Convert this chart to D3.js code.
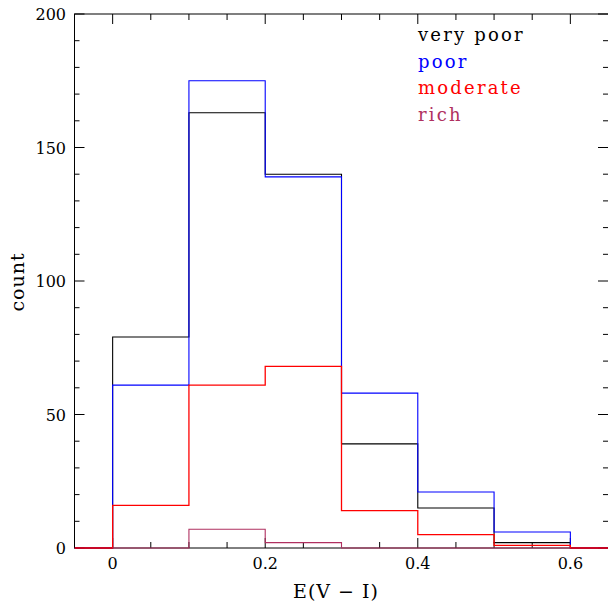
<!DOCTYPE html>
<html>
<head>
<meta charset="utf-8">
<script src="https://cdn.jsdelivr.net/npm/d3@7"></script>
<style>
  html, body { margin: 0; padding: 0; background: #fff; }
  svg { display: block; }
  text { font-family: "DejaVu Serif", "Liberation Serif", serif; fill: #000; }
</style>
</head>
<body>
<svg id="chart" width="608" height="606"></svg>
<script>
// ---- data ----
const binEdges = [0, 0.1, 0.2, 0.3, 0.4, 0.5, 0.6];
const veryPoor = [79, 163, 140, 39, 15, 2];
const poor     = [61, 175, 139, 58, 21, 6];
const moderate = [16, 61, 68, 14, 5, 1];
const rich     = [0, 7, 2, 0, 0, 0];
const seriesNames = ["very poor", "poor", "moderate", "rich"];
const seriesColors = ["#000000", "#0000ff", "#ff0000", "#b03060"];
const xTickLabels = [0, 0.2, 0.4, 0.6];
const yTickLabels = [0, 50, 100, 150, 200];

// ---- layout ----
const svg = d3.select("#chart");
const L = 74.5, R = 609, T = 14, B = 548;
const x = d3.scaleLinear().domain([-0.05, 0.65]).range([L, R - 0.5]);
const y = d3.scaleLinear().domain([0, 200]).range([B, T]);

// ---- frame & ticks ----
const frame = svg.append("g").attr("stroke", "#000").attr("stroke-width", 1).attr("fill", "none");
frame.append("rect").attr("x", L).attr("y", T).attr("width", R - L).attr("height", B - T);

const xMinor = d3.range(-0.05, 0.651, 0.05).map(v => +v.toFixed(2));
xMinor.forEach(v => {
  const major = xTickLabels.some(t => Math.abs(t - v) < 1e-6);
  const len = major ? 10 : 6;
  const px = x(v);
  frame.append("line").attr("x1", px).attr("x2", px).attr("y1", B).attr("y2", B - len);
  frame.append("line").attr("x1", px).attr("x2", px).attr("y1", T).attr("y2", T + len);
});
d3.range(0, 201, 10).forEach(v => {
  const major = v % 50 === 0;
  const len = major ? 10 : 5;
  const py = y(v);
  frame.append("line").attr("x1", L).attr("x2", L + len).attr("y1", py).attr("y2", py);
  frame.append("line").attr("x1", R - 1).attr("x2", R - 1 - len).attr("y1", py).attr("y2", py);
});

// ---- histograms ----
svg.append("defs").append("clipPath").attr("id", "clip")
  .append("rect").attr("x", L).attr("y", T - 1).attr("width", R - L).attr("height", B - T + 2);

function stepPoints(vals, extend) {
  const pts = [];
  if (extend) pts.push([x.domain()[0], 0]);
  pts.push([binEdges[0], 0]);
  vals.forEach((v, i) => { pts.push([binEdges[i], v]); pts.push([binEdges[i + 1], v]); });
  pts.push([binEdges[binEdges.length - 1], 0]);
  if (extend) pts.push([x.domain()[1], 0]);
  return pts;
}
const line = d3.line().x(d => x(d[0])).y(d => y(d[1]));
const allSeries = [veryPoor, poor, moderate, rich];
const g = svg.append("g").attr("clip-path", "url(#clip)");
allSeries.forEach((vals, i) => {
  g.append("path")
    .attr("d", line(stepPoints(vals, i !== 3)))
    .attr("fill", "none")
    .attr("stroke", seriesColors[i])
    .attr("stroke-width", i === 2 ? 1.3 : 1.1);
});

// ---- tick labels ----
xTickLabels.forEach(v => {
  svg.append("text").attr("x", x(v)).attr("y", 569)
    .attr("text-anchor", "middle").attr("font-size", 16).text(v === 0 ? "0" : v.toString());
});
yTickLabels.forEach(v => {
  svg.append("text").attr("x", 66).attr("y", y(v) + 6)
    .attr("text-anchor", "end").attr("font-size", 16).text(v);
});

// ---- axis titles ----
svg.append("text").attr("x", 336).attr("y", 598).attr("text-anchor", "middle")
  .attr("font-size", 19).attr("letter-spacing", 1).text("E(V \u2212 I)");
svg.append("text").attr("transform", "translate(24,282) rotate(-90)")
  .attr("text-anchor", "middle").attr("font-size", 19).attr("letter-spacing", 1).text("count");

// ---- legend ----
seriesNames.forEach((n, i) => {
  svg.append("text").attr("x", 418).attr("y", 41 + i * 26.5)
    .attr("font-size", 18).attr("letter-spacing", 2.2)
    .style("fill", seriesColors[i]).text(n);
});
</script>
</body>
</html>
